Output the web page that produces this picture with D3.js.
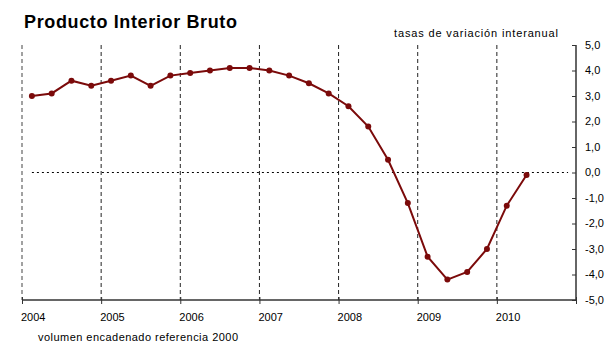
<!DOCTYPE html>
<html>
<head>
<meta charset="utf-8">
<script src="https://cdn.jsdelivr.net/npm/d3@7"></script>
<style>
    body { margin: 0; background: #fff; }
    svg { display: block; font-family: Arial, "Liberation Sans", sans-serif; }
</style>
</head>
<body>
<div id="chart"></div>
<script>
// Producto Interior Bruto - tasas de variacion interanual (trimestral)

const years = [2004, 2005, 2006, 2007, 2008, 2009, 2010];
const quarters = [
    '2004T1', '2004T2', '2004T3', '2004T4',
    '2005T1', '2005T2', '2005T3', '2005T4',
    '2006T1', '2006T2', '2006T3', '2006T4',
    '2007T1', '2007T2', '2007T3', '2007T4',
    '2008T1', '2008T2', '2008T3', '2008T4',
    '2009T1', '2009T2', '2009T3', '2009T4',
    '2010T1', '2010T2'
];
const pibValues = [
    3.0, 3.1, 3.6, 3.4,
    3.6, 3.8, 3.4, 3.8,
    3.9, 4.0, 4.1, 4.1,
    4.0, 3.8, 3.5, 3.1,
    2.6, 1.8, 0.5, -1.2,
    -3.3, -4.2, -3.9, -3.0,
    -1.3, -0.1
];
const yTicks = [5, 4, 3, 2, 1, 0, -1, -2, -3, -4, -5];

const width = 610, height = 351;
const plot = { left: 22, right: 576, top: 45, bottom: 300 };

const svg = d3.select('#chart')
    .append('svg')
    .attr('width', width)
    .attr('height', height);

// quarter -> decimal year (middle of the quarter)
const qTime = q => +q.slice(0, 4) + (+q.slice(5) - 0.5) / 4;

const x = d3.scaleLinear()
    .domain([2004, 2011])
    .range([plot.left, plot.right]);

const y = d3.scaleLinear()
    .domain([-5, 5])
    .range([plot.bottom, plot.top]);

// vertical year gridlines
svg.append('g')
    .selectAll('line')
    .data(years)
    .join('line')
    .attr('x1', d => x(d))
    .attr('x2', d => x(d))
    .attr('y1', plot.top)
    .attr('y2', plot.bottom)
    .attr('stroke', (d, i) => i === 0 ? '#8a8a8a' : '#222')
    .attr('stroke-width', (d, i) => i === 0 ? 1.6 : 1)
    .attr('stroke-dasharray', '4,3');

// zero reference line
svg.append('line')
    .attr('x1', x(2004.125))
    .attr('x2', x(2010.9))
    .attr('y1', y(0))
    .attr('y2', y(0))
    .attr('stroke', '#000')
    .attr('stroke-width', 1)
    .attr('stroke-dasharray', '2,3');

// bottom axis
const xAxis = svg.append('g')
    .attr('transform', `translate(0,${plot.bottom})`)
    .call(d3.axisBottom(x)
        .tickValues(years.concat([2011]))
        .tickSize(4)
        .tickFormat(''));
xAxis.select('.domain').attr('stroke', '#333').attr('stroke-width', 1.5).attr('d', `M${plot.left},0H${plot.right}`);
xAxis.selectAll('.tick line').attr('stroke', '#333').attr('y1', -3);

svg.append('g')
    .selectAll('text')
    .data(years)
    .join('text')
    .attr('x', d => x(d) - 1)
    .attr('y', 321)
    .attr('font-size', '11px')
    .attr('fill', '#000')
    .text(d => d);

// right axis
const yAxis = svg.append('g')
    .attr('transform', `translate(${plot.right},0)`)
    .call(d3.axisLeft(y)
        .tickValues(yTicks)
        .tickSize(4)
        .tickFormat(''));
yAxis.select('.domain').attr('stroke', '#333').attr('stroke-width', 1.5).attr('d', `M0,${plot.top}V${plot.bottom}`);
yAxis.selectAll('.tick line').attr('stroke', '#333');

svg.append('g')
    .selectAll('text')
    .data(yTicks)
    .join('text')
    .attr('x', 585)
    .attr('y', d => y(d))
    .attr('dy', '0.35em')
    .attr('font-size', '11px')
    .attr('fill', '#000')
    .text(d => d3.format('.1f')(d).replace('.', ',').replace('−', '-'));

// series
const line = d3.line()
    .x((d, i) => x(qTime(quarters[i])))
    .y(d => y(d));

svg.append('path')
    .datum(pibValues)
    .attr('fill', 'none')
    .attr('stroke', '#7b0a0a')
    .attr('stroke-width', 2)
    .attr('d', line);

svg.append('g')
    .selectAll('circle')
    .data(pibValues)
    .join('circle')
    .attr('cx', (d, i) => x(qTime(quarters[i])))
    .attr('cy', d => y(d))
    .attr('r', 3)
    .attr('fill', '#7b0a0a');

// texts
svg.append('text')
    .attr('x', 24)
    .attr('y', 28)
    .attr('font-size', '18px')
    .attr('font-weight', 'bold')
    .attr('fill', '#000')
    .attr('textLength', 213)
    .text('Producto Interior Bruto');

svg.append('text')
    .attr('x', 394)
    .attr('y', 37)
    .attr('font-size', '11px')
    .attr('fill', '#000')
    .attr('textLength', 164)
    .text('tasas de variación interanual');

svg.append('text')
    .attr('x', 38)
    .attr('y', 341)
    .attr('font-size', '11px')
    .attr('fill', '#000')
    .attr('textLength', 200)
    .text('volumen encadenado referencia 2000');
</script>
</body>
</html>
